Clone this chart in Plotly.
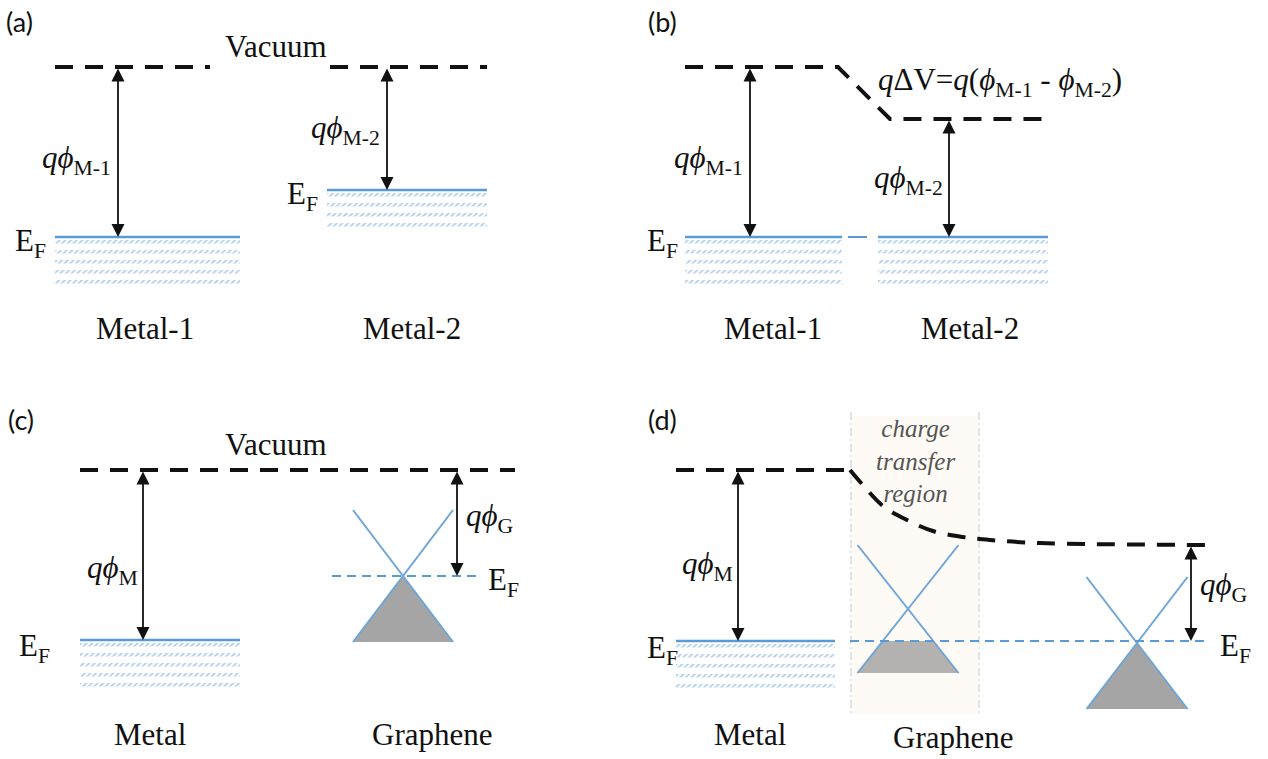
import plotly.graph_objects as go

# ---------------------------------------------------------------------------
# Band-diagram data (energies given as screen rows, y grows downward)
# ---------------------------------------------------------------------------
panel_tags = ["(a)", "(b)", "(c)", "(d)"]

# (a) two isolated metals
a_names = ["Metal-1", "Metal-2"]
a_phi_subs = ["M-1", "M-2"]
a_vacuum = [67, 67]
a_fermi = [237, 190]

# (b) metals in contact: common Fermi level, stepped vacuum level
b_names = ["Metal-1", "Metal-2"]
b_phi_subs = ["M-1", "M-2"]
b_vacuum = [67, 119]
b_fermi = [237, 237]
b_step_label = "<i>q</i>ΔV=<i>q</i>(<i>ϕ</i><sub>M-1</sub> - <i>ϕ</i><sub>M-2</sub>)"

# (c) metal and graphene apart
c_names = ["Metal", "Graphene"]
c_vacuum = 470
c_fermi_metal = 640
c_fermi_graphene = 576      # Dirac point sits at E_F
c_cone_half_height = 66

# (d) metal / graphene contact with charge-transfer region
d_names = ["Metal", "Graphene"]
d_vacuum_left = 470
d_vacuum_curve_x = [850, 862, 883, 907, 933, 963, 990, 1040, 1210]
d_vacuum_curve_y = [470, 484, 506, 520, 531, 537, 540, 543, 545]
d_fermi = 641
d_dirac_region = 609        # Dirac point inside transfer region (p-doped)
d_dirac_far = 643           # Dirac point far from contact
d_cone_half_height = 64
d_region_text = "<i>charge</i><br><i>transfer</i><br><i>region</i>"

# ---------------------------------------------------------------------------
BLUE = "#5b9bd5"
CONE = "#6fa5d8"
BLACK = "#111111"
SERIF = "Liberation Serif"
fig = go.Figure()


def line(xs, ys, color=BLACK, width=4, dash=None, shape="linear"):
    fig.add_trace(go.Scatter(x=xs, y=ys, mode="lines", hoverinfo="skip",
                             line=dict(color=color, width=width, dash=dash, shape=shape)))


def vac(xs, ys):
    line(xs, ys, BLACK, 4, "18px,12px")


def poly(xs, ys, fill):
    fig.add_trace(go.Scatter(x=xs, y=ys, mode="lines", fill="toself", fillcolor=fill,
                             line=dict(width=0), hoverinfo="skip"))


def metal(x0, x1, ef, rows=5):
    # filled states: striped rows under the Fermi level
    for k in range(rows):
        top = ef + 3 + 10 * k
        fig.add_trace(go.Scatter(
            x=[x0, x1, x1, x0, x0], y=[top, top, top + 3.5, top + 3.5, top],
            mode="lines", fill="toself", fillcolor="rgba(0,0,0,0)",
            fillpattern=dict(shape="/", fgcolor=BLUE, bgcolor="rgba(0,0,0,0)",
                             size=4, solidity=0.45),
            line=dict(width=0), hoverinfo="skip"))
    line([x0, x1], [ef, ef], BLUE, 2.5)


def cone(xc, dirac, half_w, half_h, ef, fill):
    top, bot = dirac - half_h, dirac + half_h
    slope = half_w / half_h
    if ef <= dirac:
        poly([xc, xc - half_w, xc + half_w, xc], [dirac, bot, bot, dirac], fill)
    else:
        w = (ef - dirac) * slope
        poly([xc - w, xc - half_w, xc + half_w, xc + w, xc - w], [ef, bot, bot, ef, ef], fill)
    line([xc - half_w, xc + half_w], [top, bot], CONE, 2)
    line([xc + half_w, xc - half_w], [top, bot], CONE, 2)


def arrow(x, y_top, y_bot):
    fig.add_annotation(x=x, y=y_bot, ax=x, ay=y_top, xref="x", yref="y", axref="x", ayref="y",
                       showarrow=True, arrowhead=2, arrowside="end+start", arrowsize=1.45,
                       arrowwidth=1.8, arrowcolor=BLACK, text="", standoff=0, startstandoff=0)


def text(x, y, s, size=31, xanchor="left", family=SERIF, color=BLACK, **kw):
    fig.add_annotation(x=x, y=y, xref="x", yref="y", text=s, showarrow=False,
                       xanchor=xanchor, yanchor="middle",
                       font=dict(family=family, size=size, color=color), **kw)


def phi(sub):
    return f"<i>qϕ</i><sub>{sub}</sub>"


EF = "E<sub>F</sub>"

# ------------------------------- panel (a) ---------------------------------
vac([55, 210], [a_vacuum[0]] * 2)
vac([330, 487], [a_vacuum[1]] * 2)
metal(55, 240, a_fermi[0])
metal(327, 487, a_fermi[1], rows=4)
arrow(118, a_vacuum[0], a_fermi[0])
arrow(387, a_vacuum[1], a_fermi[1])
text(113, 160, phi(a_phi_subs[0]), xanchor="right")
text(382, 130, phi(a_phi_subs[1]), xanchor="right")
text(13, 243, EF)
text(285, 196, EF)
text(276, 46, "Vacuum", xanchor="center")
text(145, 328, a_names[0], xanchor="center")
text(412, 328, a_names[1], xanchor="center")

# ------------------------------- panel (b) ---------------------------------
vac([685, 838, 890, 1048], [b_vacuum[0], b_vacuum[0], b_vacuum[1], b_vacuum[1]])
metal(685, 842, b_fermi[0])
metal(878, 1048, b_fermi[1])
line([848, 867], [b_fermi[0], b_fermi[1]], BLUE, 2)
arrow(750, b_vacuum[0], b_fermi[0])
arrow(949, b_vacuum[1], b_fermi[1])
text(745, 160, phi(b_phi_subs[0]), xanchor="right")
text(945, 180, phi(b_phi_subs[1]), xanchor="right")
text(876, 82, b_step_label)
text(645, 243, EF)
text(773, 328, b_names[0], xanchor="center")
text(970, 328, b_names[1], xanchor="center")

# ------------------------------- panel (c) ---------------------------------
vac([80, 515], [c_vacuum] * 2)
metal(80, 240, c_fermi_metal)
cone(403, c_fermi_graphene, 50, c_cone_half_height, c_fermi_graphene, "#a5a5a5")
line([332, 482], [c_fermi_graphene] * 2, BLUE, 1.8, "9px,6px")
arrow(143, c_vacuum, c_fermi_metal)
arrow(457, c_vacuum, c_fermi_graphene)
text(140, 570, phi("M"), xanchor="right")
text(464, 518, phi("G"))
text(17, 648, EF)
text(486, 582, EF)
text(276, 444, "Vacuum", xanchor="center")
text(150, 734, c_names[0], xanchor="center")
text(432, 734, c_names[1], xanchor="center")

# ------------------------------- panel (d) ---------------------------------
fig.add_shape(type="rect", x0=852, x1=978, y0=416, y1=714, xref="x", yref="y",
              fillcolor="#fefbf6", line=dict(width=0), layer="below")
for xv in (851, 979):
    line([xv, xv], [412, 714], "#c9c9c9", 1, "8px,3px,2px,3px")
text(915, 461, d_region_text, size=25, xanchor="center", family=SERIF,
     color="#555555", align="center")
vac([676, 850], [d_vacuum_left] * 2)
line(d_vacuum_curve_x, d_vacuum_curve_y, BLACK, 4, "18px,12px", "spline")
metal(676, 835, d_fermi)
cone(908, d_dirac_region, 50.5, d_cone_half_height, d_fermi, "#b3b2b0")
cone(1137, d_dirac_far, 50.5, 66, d_dirac_far, "#a5a5a5")
line([850, 1210], [d_fermi] * 2, BLUE, 1.8, "9px,6px")
arrow(738, d_vacuum_left, d_fermi)
arrow(1191, d_vacuum_curve_y[-1], d_fermi)
text(735, 566, phi("M"), xanchor="right")
text(1198, 587, phi("G"))
text(645, 650, EF)
text(1218, 648, EF)
text(750, 734, d_names[0], xanchor="center")
text(953, 737, d_names[1], xanchor="center")

# panel tags
for tag, (tx, ty) in zip(panel_tags, [(4, 21), (646, 21), (6, 419), (646, 419)]):
    text(tx, ty, tag, size=27, family="Lato")

fig.update_layout(
    width=1268, height=759, margin=dict(l=0, r=0, t=0, b=0),
    paper_bgcolor="white", plot_bgcolor="white", showlegend=False,
    xaxis=dict(range=[0, 1268], visible=False, fixedrange=True),
    yaxis=dict(range=[759, 0], visible=False, fixedrange=True),
)
fig.write_html("out.html")
